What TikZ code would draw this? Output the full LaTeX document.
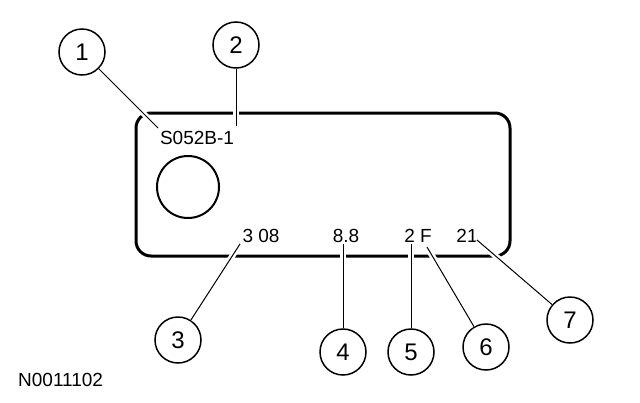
\documentclass[tikz,border=0pt]{standalone}
\usepackage{fontspec}
\setmainfont{Liberation Sans}
\begin{document}
\begin{tikzpicture}[x=1pt,y=-1pt,
  callout/.style={draw,circle,line width=1.5pt,minimum size=46pt,inner sep=0pt,font=\fontsize{24}{24}\selectfont},
  lbl/.style={inner sep=0pt,font=\fontsize{19}{19}\selectfont},
  leader/.style={line width=1pt,preaction={draw=white,line width=6pt}},
  plate/.style={line width=3pt,rounded corners=15pt}]
\useasboundingbox (0,0) rectangle (640,402);
\draw[plate] (136,113) rectangle (510,256);
\draw[line width=2pt] (188,187) circle (31);
\node[lbl] (s) at (197,138) {S052B-1};
\node[lbl] (t3) at (261,236) {3 08};
\node[lbl] (t4) at (346,236) {8.8};
\node[lbl] (t5) at (418,236) {2 F};
\node[lbl] (t7) at (467,236) {21};
\node[lbl,anchor=west] (code) at (18,380) {N0011102};
\node[callout] (c1) at (82,52) {1};
\node[callout] (c2) at (236,45) {2};
\node[callout] (c3) at (178,340) {3};
\node[callout] (c4) at (343,352) {4};
\node[callout] (c5) at (411,352) {5};
\node[callout] (c6) at (486,347) {6};
\node[callout] (c7) at (570,320) {7};
\coordinate (e1) at (158,128);
\coordinate (e2) at (236,126);
\coordinate (e3) at (240,244);
\coordinate (e4) at (343,244);
\coordinate (e5) at (411,244);
\coordinate (e6) at (427,247);
\coordinate (e7) at (477,240);
\draw[leader] (c1) -- (e1);
\draw[leader] (c2) -- (e2);
\draw[leader] (c3) -- (e3);
\draw[leader] (c4) -- (e4);
\draw[leader] (c5) -- (e5);
\draw[leader] (c6) -- (e6);
\draw[leader] (c7) -- (e7);
\end{tikzpicture}
\end{document}
